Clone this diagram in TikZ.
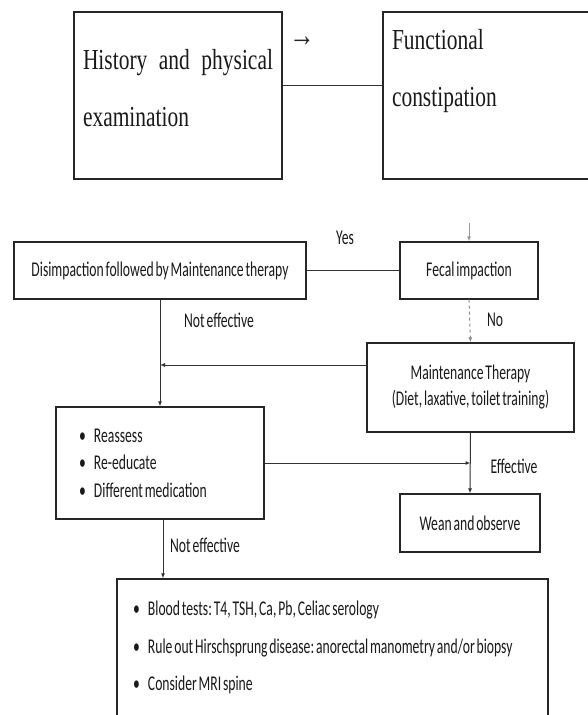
\documentclass[tikz,border=0pt]{standalone}
\usepackage{fontspec}
\newfontfamily\boxserif[FakeStretch=0.74]{Liberation Serif}
\newfontfamily\boxsans[FakeStretch=0.65, WordSpace=0.6]{Carlito}
\usetikzlibrary{arrows.meta}
\frenchspacing

\newcommand{\bitem}[1]{\makebox[15pt][l]{\textbullet}#1}

\tikzset{
  serifbox/.style={draw=black!85, line width=1.2pt, text=black!90, inner xsep=9pt, align=flush left,
    font=\boxserif\fontsize{29}{57}\selectfont},
  flowbox/.style={draw=black!85, line width=1.2pt, text=black!90, align=center,
    font=\boxsans\fontsize{21}{26}\selectfont},
  listbox/.style={flowbox, align=flush left},
  lbl/.style={text=black!90, inner sep=1pt, font=\boxsans\fontsize{21}{23}\selectfont},
  conn/.style={draw=black!80, line width=1pt},
  tip/.style={-{Latex[length=5pt,width=4pt]}}
}

\begin{document}
\begin{tikzpicture}[x=1pt, y=-1pt]
\useasboundingbox (0,0) rectangle (588,715);
\clip (0,0) rectangle (588,715);

%\draw[step=50,gray,very thin] (0,0) grid (588,715);

% top row
\node[serifbox, text width=190pt, minimum height=167pt] (hist) at (178,95.5)
  {History\hskip 0pt plus 1fill and\hskip 0pt plus 1fill physical\\examination\par\vspace{14pt}};
\node[serifbox, text width=199pt, minimum height=167pt] (func) at (491.5,95.5)
  {Functional\\constipation\par\vspace{49pt}};
\node[font=\boxserif\fontsize{34}{36}\selectfont, text=black!85] (arr) at (302,42) {→};

% flow
\node[flowbox, minimum width=292pt, minimum height=57pt] (dis) at (160,270.5) {Disimpaction followed by Maintenance therapy};
\node[flowbox, minimum width=138pt, minimum height=57pt] (fec) at (469,270.5) {Fecal impaction};
\node[flowbox, minimum width=207pt, minimum height=89pt] (mt) at (470.5,387.5) {Maintenance Therapy\\(Diet, laxative, toilet training)};
\node[listbox, text width=162pt, inner xsep=23pt, minimum height=112pt,
  font=\boxsans\fontsize{21}{27.5}\selectfont] (re) at (160,463)
  {\bitem{Reassess}\\\bitem{Re-educate}\\\bitem{Different medication}};
\node[flowbox, minimum width=140pt, minimum height=58pt] (wean) at (470,523) {Wean and observe};
\node[listbox, text width=399pt, inner xsep=16pt, minimum height=137pt,
  font=\boxsans\fontsize{21}{37.5}\selectfont] (tests) at (332.5,647.5)
  {\bitem{Blood tests: T4, TSH, Ca, Pb, Celiac serology}\\
   \bitem{Rule out Hirschsprung disease: anorectal manometry and/or biopsy}\\
   \bitem{Consider MRI spine}};

% labels
\node[lbl] (yes) at (345,238) {Yes};
\node[lbl] (no) at (495,320) {No};
\node[lbl] (ne1) at (219,320) {Not effective};
\node[lbl] (eff) at (514,466) {Effective};
\node[lbl] (ne2) at (205,545) {Not effective};

% connectors
\coordinate (fin) at (469,223);
\draw[conn] ([yshift=10.5pt]hist.east) -- ([yshift=10.5pt]hist.east -| func.west);
\draw[conn] (dis) -- (fec);
\draw[conn, draw=black!40, tip] (fin) -- (fec.north);
\draw[conn, draw=black!45, dashed, tip] (fec.south) -- (mt.north);
\draw[conn, tip] (dis.south) -- (re.north);
\draw[conn, tip] ([yshift=22.5pt]mt.west) -- ([yshift=22.5pt]mt.west -| dis.south);
\draw[conn, tip] (mt.south) -- (wean.north);
\draw[conn, tip] (re.east) -- (re.east -| mt.south);
\draw[conn, tip] ([xshift=3pt]re.south) -- ([xshift=3pt]re.south |- tests.north);

\end{tikzpicture}
\end{document}
